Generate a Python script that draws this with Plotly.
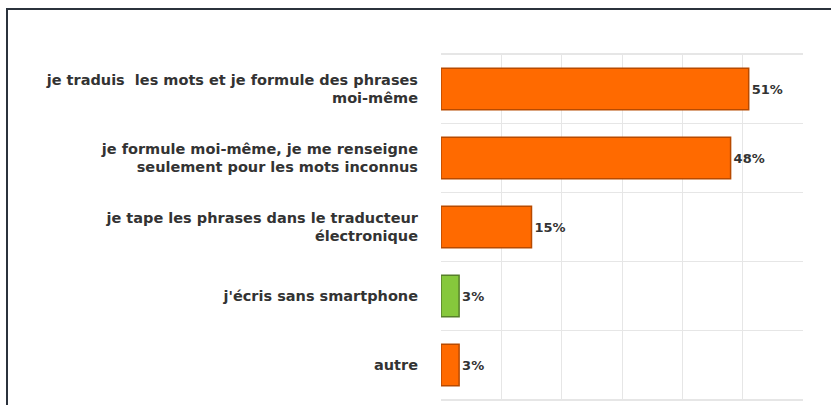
import plotly.graph_objects as go

# Survey answers (top to bottom) and their shares in percent
categories = [
    "je traduis\u00a0 les mots et je formule des phrases<br>moi-même",
    "je formule moi-même, je me renseigne<br>seulement pour les mots inconnus",
    "je tape les phrases dans le traducteur<br>électronique",
    "j'écris sans smartphone",
    "autre",
]
values = [51, 48, 15, 3, 3]
fill_colors = ["#ff6a00", "#ff6a00", "#ff6a00", "#86c83c", "#ff6a00"]
edge_colors = ["#b84a00", "#b84a00", "#b84a00", "#567f2a", "#b84a00"]

W, H = 831, 405
ML, MR, MT, MB = 441, 28, 54, 5
pw = W - ML - MR
ph = H - MT - MB

FONT = "DejaVu Sans"

fig = go.Figure(
    go.Bar(
        y=categories,
        x=values,
        orientation="h",
        width=0.6,
        marker=dict(color=fill_colors, line=dict(color=edge_colors, width=1.5)),
        text=[f"{v}%" for v in values],
        textposition="outside",
        textfont=dict(family=FONT, size=13, color="#333333", weight="bold"),
        cliponaxis=False,
    )
)

# thin separators between the answer rows
shapes = []
for i in range(len(categories) + 1):
    shapes.append(dict(type="line", xref="paper", yref="y", x0=0, x1=1,
                       y0=i - 0.5, y1=i - 0.5,
                       line=dict(color="#e6e6e6", width=1), layer="below"))

# dark outer frame
def px_x(p):
    return (p - ML) / pw

def px_y(p):
    return (H - MB - p) / ph

shapes.append(dict(type="rect", xref="paper", yref="paper",
                   x0=px_x(7), x1=px_x(845), y0=px_y(420), y1=px_y(9),
                   line=dict(color="#2b323c", width=2), fillcolor="rgba(0,0,0,0)"))

fig.update_layout(
    width=W, height=H,
    margin=dict(l=ML, r=MR, t=MT, b=MB),
    paper_bgcolor="white",
    plot_bgcolor="white",
    showlegend=False,
    shapes=shapes,
    xaxis=dict(range=[0, 60], dtick=10, showgrid=True, gridcolor="#e6e6e6",
               gridwidth=1, showticklabels=False, zeroline=False,
               showline=True, linecolor="#e6e6e6", mirror=True, fixedrange=True),
    yaxis=dict(autorange="reversed", showgrid=False, zeroline=False,
               tickfont=dict(family=FONT, size=14.5, color="#333333", weight="bold"),
               ticklabelstandoff=22, showline=False),
)

fig.write_html("out.html")
